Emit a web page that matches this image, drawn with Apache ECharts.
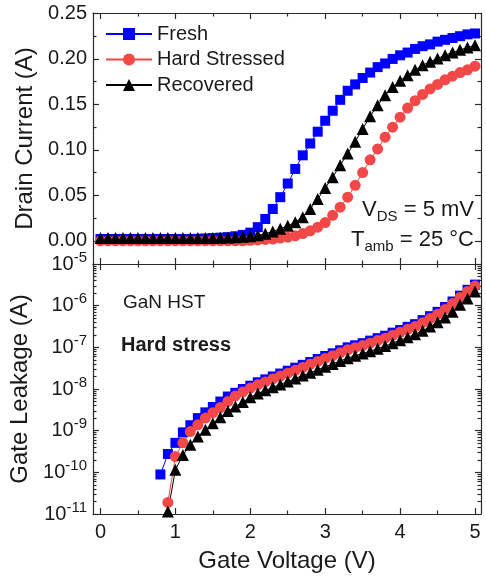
<!DOCTYPE html>
<html>
<head>
<meta charset="utf-8">
<script src="https://cdn.jsdelivr.net/npm/echarts@6/dist/echarts.min.js"></script>
<style>
html, body { margin: 0; padding: 0; background: #fff; }
#chart { width: 486px; height: 580px; }
</style>
</head>
<body>
<div id="chart"></div>
<script>
// gate voltage sweep (V)
var gateVoltage = [0, 0.1, 0.2, 0.3, 0.4, 0.5, 0.6, 0.7, 0.8, 0.9,
    1.0, 1.1, 1.2, 1.3, 1.4, 1.5, 1.6, 1.7, 1.8, 1.9,
    2.0, 2.1, 2.2, 2.3, 2.4, 2.5, 2.6, 2.7, 2.8, 2.9,
    3.0, 3.1, 3.2, 3.3, 3.4, 3.5, 3.6, 3.7, 3.8, 3.9,
    4.0, 4.1, 4.2, 4.3, 4.4, 4.5, 4.6, 4.7, 4.8, 4.9, 5.0];

// drain current (A)
var drainFresh = [0.002, 0.002, 0.002, 0.002, 0.002, 0.002, 0.002, 0.002, 0.002, 0.002,
    0.002, 0.002, 0.002, 0.0022, 0.0025, 0.003, 0.0035, 0.004, 0.005, 0.0065,
    0.009, 0.015, 0.024, 0.035, 0.048, 0.063, 0.079, 0.094, 0.107, 0.12,
    0.132, 0.143, 0.155, 0.165, 0.172, 0.179, 0.185, 0.191, 0.195, 0.2,
    0.204, 0.207, 0.211, 0.214, 0.216, 0.219, 0.221, 0.223, 0.225, 0.227, 0.228];
var drainStressed = [0, 0, 0, 0, 0, 0, 0, 0, 0, 0,
    0, 0, 0, 0, 0, 0, 0, 0, 0, 0,
    0.0005, 0.001, 0.0015, 0.002, 0.003, 0.004, 0.0055, 0.008, 0.011, 0.015,
    0.02, 0.028, 0.037, 0.048, 0.061, 0.075, 0.089, 0.101, 0.114, 0.125,
    0.136, 0.146, 0.154, 0.161, 0.167, 0.172, 0.177, 0.181, 0.185, 0.188, 0.192];
var drainRecovered = [0.003, 0.003, 0.003, 0.003, 0.003, 0.003, 0.003, 0.003, 0.003, 0.003,
    0.003, 0.003, 0.003, 0.003, 0.003, 0.003, 0.0033, 0.0036, 0.004, 0.0045,
    0.005, 0.006, 0.0078, 0.0102, 0.0132, 0.0165, 0.0205, 0.026, 0.035, 0.046,
    0.058, 0.07, 0.083, 0.096, 0.109, 0.123, 0.137, 0.149, 0.16, 0.169,
    0.176, 0.182, 0.188, 0.193, 0.197, 0.2005, 0.204, 0.207, 0.21, 0.2125, 0.215];

// gate leakage (A), null = below 1e-11
var leakFresh = [null, null, null, null, null, null, null, null, 8.9e-11, 2.75e-10,
    5.1e-10, 9.1e-10, 1.35e-9, 2.0e-9, 2.75e-9, 3.7e-9, 5.0e-9, 6.6e-9, 8.1e-9, 1.0e-8,
    1.2e-8, 1.45e-8, 1.7e-8, 2.0e-8, 2.35e-8, 2.75e-8, 3.25e-8, 3.8e-8, 4.45e-8, 5.25e-8,
    6.2e-8, 7.2e-8, 8.5e-8, 1.0e-7, 1.12e-7, 1.26e-7, 1.45e-7, 1.66e-7, 1.9e-7, 2.25e-7,
    2.6e-7, 3.1e-7, 3.6e-7, 4.5e-7, 5.6e-7, 7.1e-7, 9.3e-7, 1.26e-6, 1.74e-6, 2.4e-6, 3.2e-6];
var leakStressed = [null, null, null, null, null, null, null, null, null, 1.9e-11,
    2.4e-10, 5.1e-10, 9.5e-10, 1.38e-9, 2.0e-9, 2.7e-9, 3.6e-9, 5.0e-9, 6.8e-9, 8.5e-9,
    1.05e-8, 1.26e-8, 1.48e-8, 1.74e-8, 2.04e-8, 2.4e-8, 2.8e-8, 3.3e-8, 3.9e-8, 4.6e-8,
    5.4e-8, 6.3e-8, 7.4e-8, 8.7e-8, 9.8e-8, 1.1e-7, 1.26e-7, 1.45e-7, 1.66e-7, 1.95e-7,
    2.3e-7, 2.7e-7, 3.15e-7, 3.9e-7, 4.9e-7, 6.2e-7, 8.1e-7, 1.12e-6, 1.58e-6, 2.2e-6, 2.95e-6];
var leakRecovered = [null, null, null, null, null, null, null, null, null, 1.15e-11,
    1.15e-10, 2.6e-10, 4.6e-10, 7.2e-10, 1.05e-9, 1.5e-9, 2.1e-9, 2.95e-9, 3.8e-9, 4.9e-9,
    6.3e-9, 7.8e-9, 9.3e-9, 1.1e-8, 1.29e-8, 1.51e-8, 1.78e-8, 2.1e-8, 2.45e-8, 2.9e-8,
    3.4e-8, 4.0e-8, 4.7e-8, 5.5e-8, 6.3e-8, 7.1e-8, 8.1e-8, 9.3e-8, 1.07e-7, 1.26e-7,
    1.48e-7, 1.74e-7, 2.05e-7, 2.5e-7, 3.15e-7, 4.0e-7, 5.2e-7, 7.1e-7, 1.05e-6, 1.48e-6, 2.2e-6];

// ticks
var voltTicks = [0, 1, 2, 3, 4, 5];
var voltMinor = [0.5, 1.5, 2.5, 3.5, 4.5];
var drainTicks = [0, 0.05, 0.1, 0.15, 0.2, 0.25];
var drainMinor = [0.025, 0.075, 0.125, 0.175, 0.225];
var leakDecades = [-11, -10, -9, -8, -7, -6, -5];
var leakMinor = [];
for (var d = -11; d < -5; d++) {
    for (var k = 2; k <= 9; k++) leakMinor.push(d + Math.log10(k));
}

var FONT = 'Liberation Sans';
var INK = '#1a1a1a';
var AXIS = '#2a2a2a';
var BLUE = '#0000ff', RED = '#f24848', BLACK = '#000000';

var chart = echarts.init(document.getElementById('chart'), null, {renderer: 'canvas'});

function tickAxis(base, ticks, len, showLine) {
    var ax = {
        type: 'value',
        axisLine: {show: showLine, onZero: false, lineStyle: {color: AXIS, width: 1.2}},
        axisTick: {show: true, inside: true, length: len, customValues: ticks,
            lineStyle: {color: AXIS, width: 1.2}},
        axisLabel: {show: false},
        splitLine: {show: false}
    };
    for (var p in base) ax[p] = base[p];
    return ax;
}

var voltRange = {min: -0.1, max: 5.08};
var drainRange = {min: -0.0255, max: 0.2505};
var expRange = {min: -11, max: -5};

function withGrid(r, g, pos) {
    return {gridIndex: g, position: pos, min: r.min, max: r.max};
}

var xAxes = [
    // top panel
    tickAxis(withGrid(voltRange, 0, 'bottom'), voltTicks, 6, true),
    tickAxis(withGrid(voltRange, 0, 'bottom'), voltMinor, 3.5, false),
    tickAxis(withGrid(voltRange, 0, 'top'), voltTicks, 6, true),
    tickAxis(withGrid(voltRange, 0, 'top'), voltMinor, 3.5, false),
    // bottom panel
    tickAxis(withGrid(voltRange, 1, 'bottom'), voltTicks, 6, true),
    tickAxis(withGrid(voltRange, 1, 'bottom'), voltMinor, 3.5, false),
    tickAxis(withGrid(voltRange, 1, 'top'), voltTicks, 6, true),
    tickAxis(withGrid(voltRange, 1, 'top'), voltMinor, 3.5, false)
];
xAxes[4].axisLabel = {show: true, customValues: voltTicks, margin: 8,
    fontFamily: FONT, fontSize: 20, color: INK};
xAxes[4].name = 'Gate Voltage (V)';
xAxes[4].nameLocation = 'middle';
xAxes[4].nameGap = 35;
xAxes[4].nameTextStyle = {fontFamily: FONT, fontSize: 24, color: INK};

var expLabel = {
    show: true, customValues: leakDecades, margin: 6,
    formatter: function (v) { return '{b|10}{e|' + v + '}'; },
    rich: {
        b: {fontFamily: FONT, fontSize: 20, color: INK, lineHeight: 28, verticalAlign: 'middle'},
        e: {fontFamily: FONT, fontSize: 15, color: INK, lineHeight: 18, verticalAlign: 'top'}
    }
};

var yAxes = [
    // top panel
    tickAxis(withGrid(drainRange, 0, 'left'), drainTicks, 6, true),
    tickAxis(withGrid(drainRange, 0, 'left'), drainMinor, 3.5, false),
    tickAxis(withGrid(drainRange, 0, 'right'), drainTicks, 6, true),
    tickAxis(withGrid(drainRange, 0, 'right'), drainMinor, 3.5, false),
    // bottom panel: log axis carries the data, exponent axes carry ticks
    {type: 'log', logBase: 10, gridIndex: 1, position: 'left', min: 1e-11, max: 1e-5,
        axisLine: {show: false}, axisTick: {show: false}, axisLabel: {show: false},
        splitLine: {show: false}, minorTick: {show: false}},
    tickAxis(withGrid(expRange, 1, 'left'), leakDecades, 6, true),
    tickAxis(withGrid(expRange, 1, 'left'), leakMinor, 3.5, false),
    tickAxis(withGrid(expRange, 1, 'right'), leakDecades, 6, true),
    tickAxis(withGrid(expRange, 1, 'right'), leakMinor, 3.5, false)
];
yAxes[0].axisLabel = {show: true, customValues: drainTicks, margin: 6,
    fontFamily: FONT, fontSize: 20, color: INK,
    formatter: function (v) { return v.toFixed(2); }};
yAxes[0].name = 'Drain Current (A)';
yAxes[0].nameLocation = 'middle';
yAxes[0].nameGap = 52;
yAxes[0].nameTextStyle = {fontFamily: FONT, fontSize: 24, color: INK};
yAxes[5].axisLabel = expLabel;
yAxes[5].name = 'Gate Leakage (A)';
yAxes[5].nameLocation = 'middle';
yAxes[5].nameGap = 52;
yAxes[5].nameTextStyle = {fontFamily: FONT, fontSize: 24, color: INK};

function pairs(ys) {
    var out = [];
    for (var i = 0; i < gateVoltage.length; i++) {
        if (ys[i] != null) out.push([gateVoltage[i], ys[i]]);
    }
    return out;
}

function series(name, color, symbol, size, ys, xi, yi) {
    return {
        name: name, type: 'line', xAxisIndex: xi, yAxisIndex: yi,
        data: pairs(ys), symbol: symbol, symbolSize: size,
        showAllSymbol: true, clip: false,
        itemStyle: {color: color},
        lineStyle: {color: color, width: 1},
        emphasis: {disabled: true}
    };
}

var option = {
    animation: false,
    backgroundColor: '#ffffff',
    grid: [
        {left: 93, top: 13, width: 388, height: 251},
        {left: 93, top: 264, width: 388, height: 250}
    ],
    xAxis: xAxes,
    yAxis: yAxes,
    legend: {
        data: ['Fresh', 'Hard Stressed', 'Recovered'],
        orient: 'vertical', left: 105, top: 24, padding: 0,
        itemWidth: 46, itemHeight: 15, itemGap: 5.5,
        textStyle: {fontFamily: FONT, fontSize: 20, color: INK, lineHeight: 20}
    },
    series: [
        series('Fresh', BLUE, 'rect', 10, drainFresh, 0, 0),
        series('Hard Stressed', RED, 'circle', 11, drainStressed, 0, 0),
        series('Recovered', BLACK, 'triangle', 12, drainRecovered, 0, 0),
        series('Fresh', BLUE, 'rect', 10, leakFresh, 4, 4),
        series('Hard Stressed', RED, 'circle', 11, leakStressed, 4, 4),
        series('Recovered', BLACK, 'triangle', 12, leakRecovered, 4, 4)
    ],
    graphic: [
        {type: 'text', x: 474, y: 210, style: {
            text: '{v|V}{s|DS}{v| = 5 mV}', align: 'right', verticalAlign: 'middle',
            textAlign: 'right', textVerticalAlign: 'middle',
            rich: {
                v: {fontFamily: FONT, fontSize: 22, fill: INK, lineHeight: 28, verticalAlign: 'middle'},
                s: {fontFamily: FONT, fontSize: 15, fill: INK, lineHeight: 14, verticalAlign: 'bottom'}
            }}},
        {type: 'text', x: 474, y: 240, style: {
            text: '{v|T}{s|amb}{v| = 25 °C}', align: 'right', verticalAlign: 'middle',
            textAlign: 'right', textVerticalAlign: 'middle',
            rich: {
                v: {fontFamily: FONT, fontSize: 22, fill: INK, lineHeight: 28, verticalAlign: 'middle'},
                s: {fontFamily: FONT, fontSize: 15, fill: INK, lineHeight: 14, verticalAlign: 'bottom'}
            }}},
        {type: 'text', x: 123, y: 303, style: {
            text: 'GaN HST', fontFamily: FONT, fontSize: 19, fill: INK,
            verticalAlign: 'middle', textVerticalAlign: 'middle'}},
        {type: 'text', x: 121, y: 345, style: {
            text: 'Hard stress', fontFamily: FONT, fontSize: 20, fontWeight: 'bold', fill: INK,
            verticalAlign: 'middle', textVerticalAlign: 'middle'}}
    ]
};

chart.setOption(option);
</script>
</body>
</html>
